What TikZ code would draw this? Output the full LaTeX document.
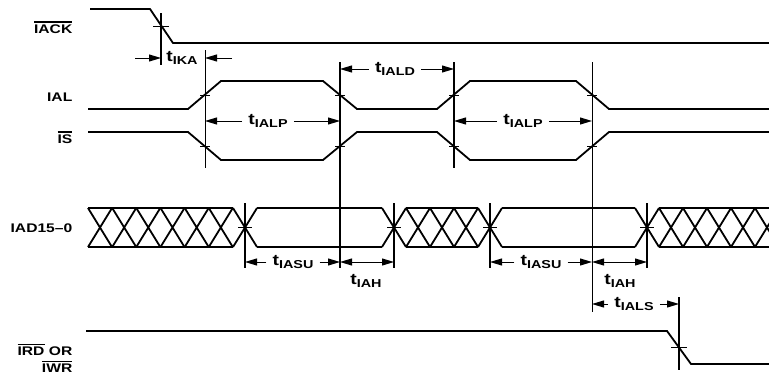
\documentclass[tikz,border=0pt]{standalone}
\usepackage{fontspec}
\setmainfont{Liberation Sans}[FakeStretch=1.25]
\usetikzlibrary{arrows.meta}

\newcommand{\ovl}[1]{\sbox0{#1}\rlap{\rule[\dimexpr\ht0+1.6pt\relax]{\wd0}{1.2pt}}\usebox0}
\newcommand{\tsub}[1]{{\fontsize{15.5}{15.5}\selectfont t}\raisebox{-2.5pt}{\fontsize{11.5}{11.5}\selectfont #1}}

\begin{document}
\begin{tikzpicture}[
    x=1pt, y=-1pt,
    wave/.style={line width=1.8pt},
    refline/.style={line width=1.1pt},
    refthin/.style={line width=0.7pt},
    dim/.style={-{Triangle[length=12pt,width=7pt]}, line width=1pt},
    dimboth/.style={{Triangle[length=12pt,width=7pt]}-{Triangle[length=12pt,width=7pt]}, line width=1pt},
    signame/.style={font=\fontsize{12.5}{13}\selectfont\bfseries, anchor=base east, inner sep=0pt},
    tlabel/.style={font=\bfseries, inner xsep=6pt, inner ysep=1pt}
]
\useasboundingbox (0,0) rectangle (769,375);

% reference edges
\coordinate (k)  at (161,0);
\coordinate (a1) at (205,0);
\coordinate (a2) at (340,0);
\coordinate (a3) at (454,0);
\coordinate (a4) at (592,0);
\coordinate (d1) at (245,0);
\coordinate (d2) at (394,0);
\coordinate (d3) at (490,0);
\coordinate (d4) at (647,0);
\coordinate (r1) at (679,0);

% signal names
\node[signame] (iack) at (72.5,33)  {\ovl{IACK}};
\node[signame] (ial)  at (72.5,101) {IAL};
\node[signame] (is)   at (72.5,143) {\ovl{IS}};
\node[signame] (iad)  at (72.5,232) {IAD15--0};
\node[signame] (ird)  at (72.5,355) {\ovl{IRD} OR};
\node[signame] (iwr)  at (72.5,372) {\ovl{IWR}};

% waveforms
\draw[wave] (90,9) -- (150,9) -- (173,43) -- (769,43);
\draw[wave] (88,109) -- (188,109) -- (221,81) -- (323,81) -- (357,109) -- (437,109)
    -- (470,81) -- (576,81) -- (609,109) -- (769,109);
\draw[wave] (88,132) -- (188,132) -- (221,160) -- (323,160) -- (357,132) -- (437,132)
    -- (470,160) -- (576,160) -- (609,132) -- (769,132);
\draw[wave] (86,331) -- (667,331) -- (691,364) -- (769,364);

% address/data bus
\begin{scope}
\clip (0,0) rectangle (769,375);
\foreach \xa/\xb in {88/233, 257/382, 406/478, 502/635, 659/769}
    \draw[wave] (\xa,208) -- (\xb,208) (\xa,247) -- (\xb,247);
\foreach \c in {100,124.2,148.3,172.5,196.7,220.8,245,394,418,442,466,490,647,671,695,719,743,767}
    \draw[wave] (\c-12,208) -- (\c+12,247) (\c-12,247) -- (\c+12,208);
\end{scope}

% timing reference lines
\draw[refline] (k |- 0,13) -- (k |- 0,65);
\draw[refthin] (a1 |- 0,50) -- (a1 |- 0,168);
\draw[refline] (a2 |- 0,62) -- (a2 |- 0,268);
\draw[refline] (a3 |- 0,62) -- (a3 |- 0,168);
\draw[refthin] (a4 |- 0,62) -- (a4 |- 0,312);
\foreach \e in {d1,d2,d3,d4}
    \draw[refline] (\e |- 0,203) -- (\e |- 0,268);
\draw[refline] (r1 |- 0,297) -- (r1 |- 0,370);

% crossing ticks
\foreach \x/\y/\w in {161/26/8, 205/95/5, 340/95/5, 454/95/5, 592/95/5,
    205/146/5, 340/146/5, 454/146/5, 592/146/5,
    245/227.5/7, 394/227.5/7, 490/227.5/7, 647/227.5/7, 679/347.5/8}
    \draw[refthin] (\x-\w,\y) -- (\x+\w,\y);

% t_IKA
\node[tlabel] (tika) at (182,58) {\tsub{IKA}};
\coordinate (ikaL) at (135,58);
\coordinate (ikaR) at (232,58);
\draw[dim] (ikaL) -- (k |- ikaL);
\draw[dim] (ikaR) -- (a1 |- ikaR);

% t_IALP, t_IALD
\node[tlabel] (tialpA) at (268,121) {\tsub{IALP}};
\draw[dim] (tialpA) -- (a1 |- tialpA);
\draw[dim] (tialpA) -- (a2 |- tialpA);

\node[tlabel] (tiald) at (395,69) {\tsub{IALD}};
\draw[dim] (tiald) -- (a2 |- tiald);
\draw[dim] (tiald) -- (a3 |- tiald);

\node[tlabel] (tialpB) at (523,121) {\tsub{IALP}};
\draw[dim] (tialpB) -- (a3 |- tialpB);
\draw[dim] (tialpB) -- (a4 |- tialpB);

% t_IASU, t_IAH
\node[tlabel] (tiasuA) at (293,262) {\tsub{IASU}};
\draw[dim] (tiasuA) -- (d1 |- tiasuA);
\draw[dim] (tiasuA) -- (a2 |- tiasuA);
\draw[dimboth] (a2 |- tiasuA) -- (d2 |- tiasuA);
\node[tlabel] (tiahA) at (366,281) {\tsub{IAH}};

\node[tlabel] (tiasuB) at (541,262) {\tsub{IASU}};
\draw[dim] (tiasuB) -- (d3 |- tiasuB);
\draw[dim] (tiasuB) -- (a4 |- tiasuB);
\draw[dimboth] (a4 |- tiasuB) -- (d4 |- tiasuB);
\node[tlabel] (tiahB) at (620,281) {\tsub{IAH}};

% t_IALS
\node[tlabel] (tials) at (634,304) {\tsub{IALS}};
\draw[dim] (tials) -- (a4 |- tials);
\draw[dim] (tials) -- (r1 |- tials);

\end{tikzpicture}
\end{document}
